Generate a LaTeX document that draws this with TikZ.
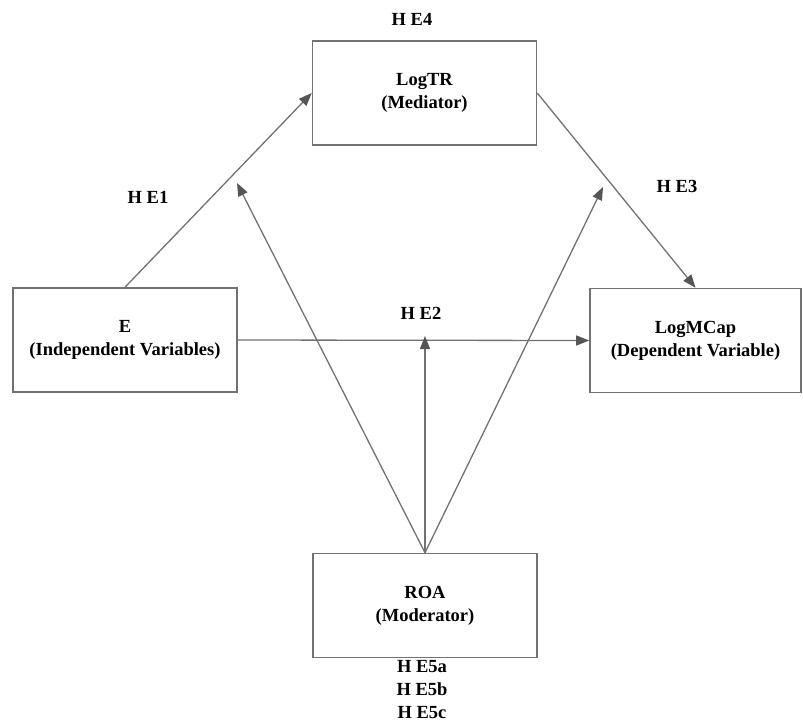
\documentclass[tikz,border=0pt]{standalone}
\usepackage{fontspec}
\setmainfont{Liberation Serif}
\usetikzlibrary{arrows.meta}

\definecolor{linegray}{HTML}{727272}
\definecolor{tipgray}{HTML}{555555}

\tikzset{
    varbox/.style={rectangle, draw=linegray, line width=1.6pt, minimum width=224pt,
        minimum height=104pt, inner sep=0pt, align=center,
        font=\fontsize{18.5}{23}\selectfont\bfseries},
    hyplabel/.style={inner sep=0pt, align=center,
        font=\fontsize{18.5}{23}\selectfont\bfseries},
    link/.style={draw=linegray, line width=1.3pt,
        -{Triangle[length=13pt, width=10pt, color=tipgray]}}
}

\begin{document}
\begin{tikzpicture}[x=1pt, y=-1pt]

    \useasboundingbox (0,0) rectangle (803,724);

    % VARIABLE BOXES
    \node[varbox] (tr) at (424.5,93) {LogTR\\(Mediator)};
    \node[varbox] (e) at (125,340) {E\\(Independent Variables)};
    \node[varbox, minimum width=211pt] (mcap) at (695.5,340.5) {LogMCap\\(Dependent Variable)};
    \node[varbox] (roa) at (425,605.5) {ROA\\(Moderator)};

    % MODERATION TARGETS
    \coordinate (m1) at (237,183);
    \coordinate (m2) at (425,336);
    \coordinate (m3) at (603,187);

    % HYPOTHESIS LABELS
    \node[hyplabel] (h4) at (412,19) {H E4};
    \node[hyplabel] (h1) at (148,197) {H E1};
    \node[hyplabel] (h3) at (677,186) {H E3};
    \node[hyplabel] (h2) at (421,313) {H E2};
    \node[hyplabel] (h5) at (422,690) {H E5a\\H E5b\\H E5c};

    % DIRECT PATHS
    \draw[link] (e.north) -- (tr.west);
    \draw[link] (tr.east) -- (mcap.north);
    \draw[link] (e.east) -- (mcap.west);

    % MODERATION PATHS
    \draw[link] (roa.north) -- (m1);
    \draw[link] (roa.north) -- (m2);
    \draw[link] (roa.north) -- (m3);

\end{tikzpicture}
\end{document}
